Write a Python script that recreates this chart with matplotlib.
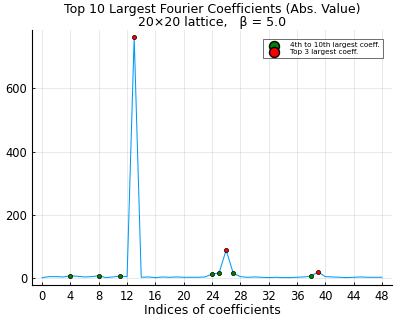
import matplotlib
matplotlib.use("Agg")
import matplotlib.pyplot as plt
import numpy as np

# absolute values of the Fourier coefficients, index 0..48
coeffs = [1, 4, 4, 3, 7, 5, 3, 4, 7, 1, 3, 6, 4, 762, 2, 3, 1, 3, 2, 3,
          2, 2, 2, 3, 12, 16, 88, 15, 4, 2, 3, 2, 1, 2, 1, 1, 2, 3, 6, 19,
          4, 3, 2, 1, 2, 3, 2, 2, 2]
idx = np.arange(len(coeffs))
coeffs = np.array(coeffs)

top3 = [13, 26, 39]
next7 = [4, 8, 11, 24, 25, 27, 38]

fig = plt.figure(figsize=(4, 3.2), dpi=100)
ax = fig.add_axes([0.08, 0.109, 0.90, 0.797])

ax.plot(idx, coeffs, color="#009AFA", lw=0.75, zorder=2)
ax.scatter(idx[next7], coeffs[next7], s=9, color="#008000", edgecolors="black",
           linewidths=0.5, zorder=3, label="4th to 10th largest coeff.")
ax.scatter(idx[top3], coeffs[top3], s=9, color="#FF0000", edgecolors="black",
           linewidths=0.5, zorder=3, label="Top 3 largest coeff.")

pad_x = 0.03 * 48
ax.set_xlim(-pad_x, 48 + pad_x)
ymax = coeffs.max()
ax.set_ylim(-0.03 * ymax, 1.03 * ymax)
ax.set_xticks(range(0, 49, 4))
ax.set_yticks([0, 200, 400, 600])
ax.tick_params(labelsize=8.3, direction="in", length=2.5, width=0.6)
ax.grid(True, color="black", alpha=0.1, lw=0.6)
ax.spines["top"].set_visible(False)
ax.spines["right"].set_visible(False)
for s in ["left", "bottom"]:
    ax.spines[s].set_linewidth(0.8)

ax.set_title("Top 10 Largest Fourier Coefficients (Abs. Value)\n20×20 lattice,   β = 5.0",
             fontsize=9, linespacing=1.0, pad=3)
ax.set_xlabel("Indices of coefficients", fontsize=9, labelpad=1)

leg = ax.legend(loc="upper right", fontsize=5.2, markerscale=2.4, frameon=True,
                fancybox=False, edgecolor="black", borderpad=0.5, handletextpad=1.2,
                labelspacing=0.05, bbox_to_anchor=(0.985, 0.98))
leg.get_frame().set_linewidth(0.5)
for h in leg.legend_handles:
    h.set_linewidth(1.0)

fig.savefig("out.png", dpi=100)
